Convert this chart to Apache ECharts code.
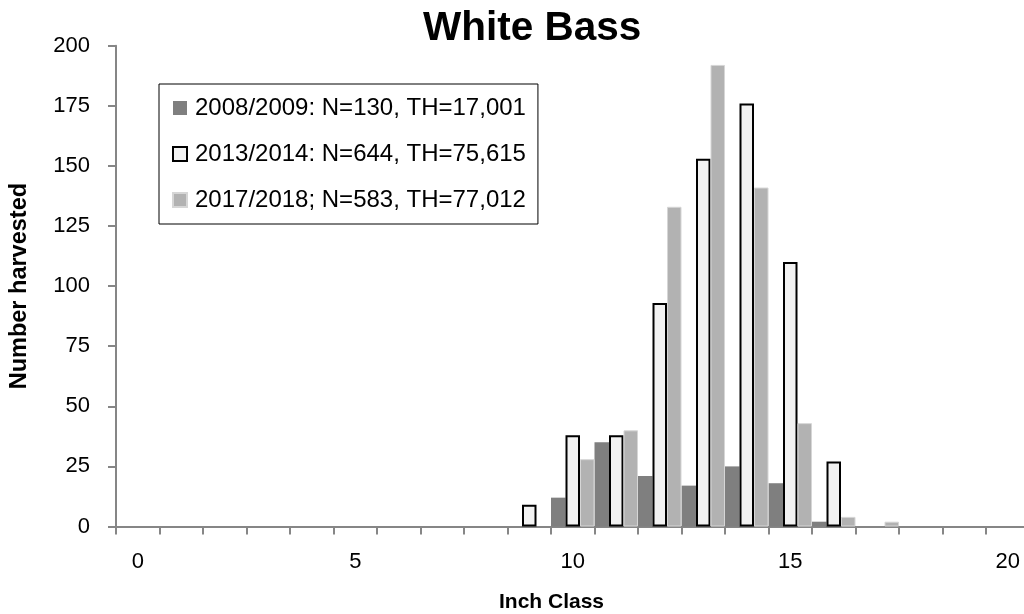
<!DOCTYPE html>
<html>
<head>
<meta charset="utf-8">
<script src="https://cdn.jsdelivr.net/npm/echarts@6/dist/echarts.min.js"></script>
<style>
html,body{margin:0;padding:0;background:#fff;overflow:hidden;}
#chart{width:1030px;height:614px;}
</style>
</head>
<body>
<div id="chart"></div>
<script>
var inchClasses = ['0','1','2','3','4','5','6','7','8','9','10','11','12','13','14','15','16','17','18','19','20'];
var seriesNames = ['2008/2009: N=130, TH=17,001', '2013/2014: N=644, TH=75,615', '2017/2018; N=583, TH=77,012'];
var harvest2008 = [0,0,0,0,0,0,0,0,0,0,12,35,21,17,25,18,2,0,0,0,0];
var harvest2013 = [0,0,0,0,0,0,0,0,0,9,38,38,93,153,176,110,27,0,0,0,0];
var harvest2017 = [0,0,0,0,0,0,0,0,0,0,28,40,133,192,141,43,4,2,0,0,0];
var yTicks = {min: 0, max: 200, interval: 25};

function noZero(arr){ return arr.map(function(v){ return v === 0 ? '-' : v; }); }

var FONT = 'Liberation Sans';
var chart = echarts.init(document.getElementById('chart'), null, {renderer: 'canvas'});
chart.setOption({
  animation: false,
  backgroundColor: '#ffffff',
  textStyle: {fontFamily: FONT},
  title: [
    {text: 'White Bass', left: 418, top: 3,
     textStyle: {fontFamily: FONT, fontSize: 40.5, fontWeight: 'bold', color: '#000'}},
    {text: 'Inch Class', left: 494, top: 587,
     textStyle: {fontFamily: FONT, fontSize: 21, fontWeight: 'bold', color: '#000'}}
  ],
  legend: {
    orient: 'vertical',
    left: 159, top: 84,
    padding: [12, 12, 12, 13],
    itemGap: 22,
    itemWidth: 14, itemHeight: 14,
    icon: 'rect',
    backgroundColor: '#fff',
    borderColor: '#000', borderWidth: 1,
    textStyle: {fontFamily: FONT, fontSize: 24, color: '#000', padding: [0,0,0,3]},
    data: seriesNames
  },
  grid: {left: 115.7, top: 45.7, right: 0.5, bottom: 87.5, containLabel: false},
  xAxis: {
    type: 'category',
    data: inchClasses,
    boundaryGap: true,
    axisLine: {lineStyle: {color: '#868686', width: 2}},
    axisTick: {show: true, interval: 0, length: 8, alignWithLabel: false, lineStyle: {color: '#868686', width: 2}},
    axisLabel: {
      interval: function(i){ return i % 5 === 0; },
      fontFamily: FONT, fontSize: 22, color: '#000', margin: 24
    },
    splitLine: {show: false}
  },
  yAxis: {
    type: 'value',
    min: yTicks.min, max: yTicks.max, interval: yTicks.interval,
    name: 'Number harvested',
    nameLocation: 'middle',
    nameRotate: 90,
    nameGap: 84,
    nameTextStyle: {fontFamily: FONT, fontSize: 23.5, fontWeight: 'bold', color: '#000'},
    axisLine: {show: true, lineStyle: {color: '#868686', width: 2}},
    axisTick: {show: true, length: 8, lineStyle: {color: '#868686', width: 2}},
    axisLabel: {fontFamily: FONT, fontSize: 22, color: '#000', margin: 26},
    splitLine: {show: false}
  },
  series: [
    {name: seriesNames[0], type: 'bar', data: noZero(harvest2008),
     barGap: '0%', barCategoryGap: '0%',
     itemStyle: {color: '#7f7f7f'}},
    {name: seriesNames[1], type: 'bar', data: noZero(harvest2013),
     barGap: '0%', barCategoryGap: '0%',
     itemStyle: {color: '#f2f2f2', borderColor: '#000', borderWidth: 2}},
    {name: seriesNames[2], type: 'bar', data: noZero(harvest2017),
     barGap: '0%', barCategoryGap: '0%',
     itemStyle: {color: '#b2b2b2', borderColor: '#d6d6d6', borderWidth: 1}}
  ]
});
</script>
</body>
</html>
